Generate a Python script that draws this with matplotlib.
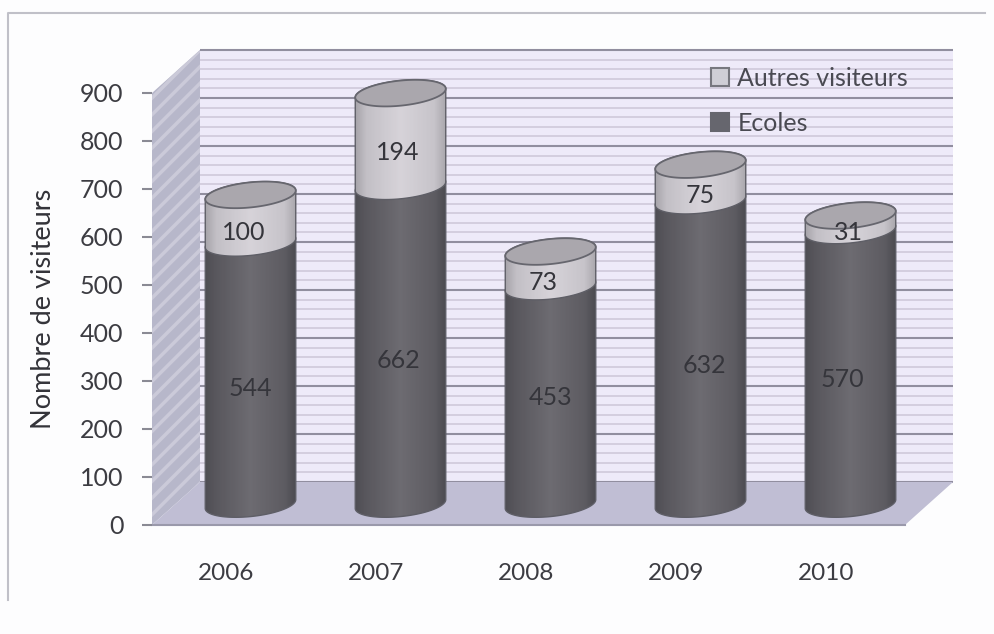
import numpy as np
import matplotlib
matplotlib.use("Agg")
import matplotlib.pyplot as plt
from matplotlib.colors import LinearSegmentedColormap
from matplotlib.patches import Polygon, Patch

plt.rcParams['font.family'] = ['Lato', 'DejaVu Sans']
plt.rcParams['hatch.linewidth'] = 2.5

annees = ['2006', '2007', '2008', '2009', '2010']
ecoles = [544, 662, 453, 632, 570]
autres = [100, 194, 73, 75, 31]
graduations = [0, 100, 200, 300, 400, 500, 600, 700, 800, 900]

# pixel layout of the front plane
W, H = 995, 634
left, right, bottom, top = 152, 905, 525, 93
px_x = 150.0
px_y = (bottom - top) / 900.0
dx = 48 / px_x
dv = 43 / px_y

fig = plt.figure(figsize=(W / 100, H / 100), dpi=100, facecolor='#fdfdfe')
ax = fig.add_axes([left / W, 1 - bottom / H, (right - left) / W, (bottom - top) / H])
x0 = (left - 226) / px_x
x1 = (right - 226) / px_x
ax.patch.set_visible(False)
gris = LinearSegmentedColormap.from_list('gris', ['#000006', '#fdf9ff'])

# walls
ax.add_patch(Polygon([(x0 + dx, dv), (x1 + dx, dv), (x1 + dx, 900 + dv), (x0 + dx, 900 + dv)],
                     fc='#eeeaf9', ec='none', clip_on=False, zorder=1))
mineures = np.arange(0, 901, 20)
ax.hlines(mineures + dv, x0 + dx, x1 + dx, color='#cfc9da', lw=1.2, clip_on=False, zorder=1.1)
ax.hlines(np.array(graduations) + dv, x0 + dx, x1 + dx, color='#918e9f', lw=1.5, clip_on=False, zorder=1.2)
mur = [(x0, 0), (x0 + dx, dv), (x0 + dx, 900 + dv), (x0, 900)]
ax.add_patch(Polygon(mur, fc='#b7b7ca', ec='#cbcad9', hatch='//', lw=0, clip_on=False, zorder=1.3))
ax.add_patch(Polygon([(x0, 0), (x1, 0), (x1 + dx, dv), (x0 + dx, dv)],
                     fc='#c0bed4', ec='none', clip_on=False, zorder=1.4))
ax.plot([x0, x1], [0, 0], color='#9a99ab', lw=1.5, clip_on=False, zorder=1.5)

# scan frame, in figure coordinates
fig.add_artist(plt.Line2D([8 / W, 8 / W, 985 / W], [1 - 600 / H, 1 - 13 / H, 1 - 13 / H],
                          color='#c0c0c8', lw=1.5))

A, B, TILT = 45.5, 12.5, np.radians(6)


def ellipse(xc, v, t):
    ex = A * np.cos(t) * np.cos(TILT) - B * np.sin(t) * np.sin(TILT)
    ey = A * np.cos(t) * np.sin(TILT) + B * np.sin(t) * np.cos(TILT)
    return xc + ex / px_x, v + ey / px_y


def segment(xc, v0, v1, couleurs, z):
    fx, fy = ellipse(xc, v0, np.linspace(np.pi, 2 * np.pi, 60))
    bx, by = ellipse(xc, v1, np.linspace(0, np.pi, 60))
    pts = np.column_stack([np.r_[fx, bx], np.r_[fy, by]])
    poly = Polygon(pts, fc='none', ec='#5e5e66', lw=1, clip_on=False, zorder=z + 0.1)
    ax.add_patch(poly)
    grad = np.interp(np.linspace(0, 1, 64), [0, 0.12, 0.5, 0.88, 1], couleurs)[None, :]
    im = ax.imshow(grad, extent=[xc - A / px_x, xc + A / px_x, v0 - 40, v1 + 40], aspect='auto',
                   cmap=gris, vmin=0, vmax=255, interpolation='bilinear', zorder=z)
    im.set_clip_path(poly)
    im.set_clip_box(fig.bbox)


sombre = [80, 90, 110, 94, 78]
clair = [168, 196, 216, 200, 172]
decal_bas = [(0, -15), (-2, -15), (0, -2), (4, -13), (-8, -12)]
decal_haut = [(-7, -14), (-3, -13), (-7, -13), (0, -13), (-2, -10)]

for i in range(len(annees)):
    xc = i + 24.5 / px_x
    base = 21 / px_y
    z = 2 + i
    segment(xc, base, base + ecoles[i], sombre, z)
    segment(xc, base + ecoles[i], base + ecoles[i] + autres[i], clair, z + 0.2)
    cx, cy = ellipse(xc, base + ecoles[i] + autres[i], np.linspace(0, 2 * np.pi, 120))
    ax.add_patch(Polygon(np.column_stack([cx, cy]), fc='#aaa7ad', ec='#66666e', lw=1.3,
                         clip_on=False, zorder=z + 0.4))
    ax.annotate(str(ecoles[i]), (xc, base + ecoles[i] / 2), xytext=decal_bas[i], textcoords='offset pixels',
                ha='center', va='center', fontsize=18, color='#35353b', zorder=z + 0.5, annotation_clip=False)
    ax.annotate(str(autres[i]), (xc, base + ecoles[i] + autres[i] / 2), xytext=decal_haut[i],
                textcoords='offset pixels', ha='center', va='center', fontsize=18, color='#35353b',
                zorder=z + 0.5, annotation_clip=False)

ax.set_xlim(x0, x1)
ax.set_ylim(0, 900)
for s in ax.spines.values():
    s.set_visible(False)
ax.set_xticks(range(len(annees)), annees)
ax.set_yticks(graduations)
ax.tick_params(axis='x', length=0, pad=27, labelsize=17.5, labelcolor='#3c3c42')
ax.tick_params(axis='y', length=7, width=1.5, color='#8a8a94', pad=13.5, labelsize=18, labelcolor='#3c3c42')
ax.set_ylabel('Nombre de visiteurs', fontsize=19.5, color='#333339', labelpad=17)

handles = [Patch(fc='#cfced6', ec='#77777f', lw=1.5), Patch(fc='#66666e', ec='#66666e', lw=1.5)]
leg = ax.legend(handles, ['Autres visiteurs', 'Ecoles'], loc='upper right', frameon=False, fontsize=18,
                labelcolor='#4a4a52', handlelength=0.72, handleheight=0.72, handletextpad=0.32,
                labelspacing=0.88, borderpad=0, borderaxespad=0,
                bbox_to_anchor=((908 - left) / (right - left), 1 + (93 - 67) / (bottom - top)))
leg.set_zorder(20)

fig.savefig('out.png', dpi=100, facecolor=fig.get_facecolor())
